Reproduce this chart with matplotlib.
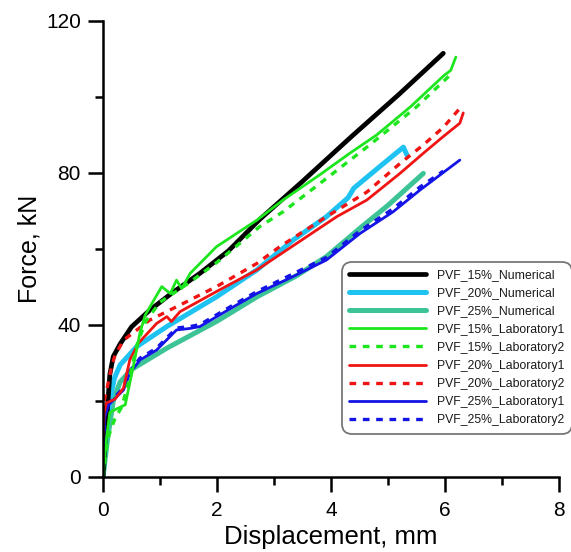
import matplotlib
matplotlib.use("Agg")
import matplotlib.pyplot as plt
from matplotlib.ticker import MultipleLocator

plt.rcParams['font.family'] = ['Liberation Sans', 'DejaVu Sans']

# ---- data ----
num15_x = [0, 0.05, 0.12, 0.18, 0.3, 0.5, 0.82, 1.2, 1.7, 2.2, 2.75, 3.5, 4.36, 5.2, 5.97]
num15_y = [0, 12, 27, 31.7, 35, 39.5, 43.9, 48.3, 53.6, 59.5, 67.8, 77.8, 89.6, 100.8, 111.5]

num20_x = [0, 0.05, 0.12, 0.2, 0.3, 0.59, 1.12, 1.99, 2.7, 3.34, 3.92, 4.3, 4.4, 4.8, 5.27, 5.33]
num20_y = [0, 10, 20, 26, 29.5, 34.3, 39.6, 47.4, 54.5, 62.4, 68.5, 73.5, 76, 81, 86.8, 84.8]

num25_x = [0, 0.08, 0.18, 0.3, 0.5, 1.12, 2.0, 2.7, 3.4, 3.92, 4.51, 5.0, 5.62]
num25_y = [0, 10, 20, 25, 28.3, 33.9, 41, 47.4, 53, 58, 65.5, 71.5, 79.9]

lab15a_x = [0, 0.06, 0.12, 0.25, 0.39, 0.53, 0.65, 0.74, 1.03, 1.18, 1.29, 1.38, 1.53, 1.99, 2.7, 3.16, 3.8, 4.33, 4.8, 5.4, 5.97, 6.1, 6.19]
lab15a_y = [0, 10, 17, 18, 19, 29, 38, 42.6, 50.1, 48.3, 51.8, 49.6, 53.6, 60.6, 67.6, 72.9, 79.5, 85.2, 90, 97.5, 105.5, 107, 110.5]

lab15b_x = [0, 0.08, 0.2, 0.33, 0.45, 0.6, 0.75, 1.0, 1.5, 2.0, 2.75, 3.16, 4.0, 4.68, 5.5, 6.12]
lab15b_y = [0, 10, 15, 18.5, 25, 35, 41, 46, 51, 56.5, 65.9, 69.8, 79.5, 87.4, 97.4, 106.2]

lab20a_x = [0, 0.02, 0.06, 0.21, 0.36, 0.47, 0.62, 0.94, 1.12, 1.2, 1.35, 1.99, 2.7, 3.4, 4.1, 4.63, 5.21, 5.62, 5.97, 6.26, 6.32]
lab20a_y = [10.6, 17, 19.5, 20.5, 23.4, 30.8, 35.2, 40.4, 42.2, 40.9, 43.5, 48.8, 54.5, 61.5, 68.5, 72.9, 79.9, 85.2, 89.6, 93.1, 95.8]

lab20b_x = [0.02, 0.08, 0.15, 0.21, 0.36, 0.82, 1.41, 1.99, 2.7, 3.1, 3.92, 4.63, 5.21, 5.62, 5.97, 6.26]
lab20b_y = [20, 24, 29, 32, 36, 41.3, 45.7, 50.1, 56.2, 60.6, 68.5, 75, 82.5, 87.4, 92, 97]

lab25a_x = [0, 0.03, 0.1, 0.24, 0.36, 0.47, 0.65, 0.94, 1.29, 1.53, 1.7, 2.29, 2.7, 3.3, 3.92, 4.51, 5.09, 5.56, 6.26]
lab25a_y = [4.5, 15.9, 19, 21.1, 22.9, 27.3, 30.8, 33.4, 38.7, 39.1, 39.6, 44.8, 48.3, 52.5, 57.1, 64.1, 69.8, 75.5, 83.4]

lab25b_x = [0, 0.03, 0.1, 0.24, 0.36, 0.47, 0.65, 0.94, 1.29, 1.53, 1.7, 2.29, 2.7, 3.3, 3.92, 4.51, 5.09, 5.56, 5.97]
lab25b_y = [5, 16.5, 19.5, 21.6, 23.4, 27.8, 31.3, 33.9, 39.2, 39.6, 40.1, 45.3, 48.8, 53.2, 57.8, 64.8, 70.6, 76.3, 80.5]

labels = ["PVF_15%_Numerical", "PVF_20%_Numerical", "PVF_25%_Numerical",
          "PVF_15%_Laboratory1", "PVF_15%_Laboratory2",
          "PVF_20%_Laboratory1", "PVF_20%_Laboratory2",
          "PVF_25%_Laboratory1", "PVF_25%_Laboratory2"]

x_ticks = [0, 2, 4, 6, 8]
y_ticks = [0, 40, 80, 120]

fig = plt.figure(figsize=(5.71, 5.52), dpi=100)
ax = fig.add_axes([103/571, 1-477/552, 456/571, 456/552])

black, cyan, teal = "#000000", "#1ec3f2", "#3cc496"
green, red, blue = "#1ee61e", "#f01414", "#1414e6"

series = [
    (num15_x, num15_y, black, '-', 3.4),
    (num20_x, num20_y, cyan, '-', 3.6),
    (num25_x, num25_y, teal, '-', 3.6),
    (lab15a_x, lab15a_y, green, '-', 2.0),
    (lab15b_x, lab15b_y, green, (0, (2.0, 2.0)), 2.4),
    (lab20a_x, lab20a_y, red, '-', 2.0),
    (lab20b_x, lab20b_y, red, (0, (2.0, 2.0)), 2.4),
    (lab25a_x, lab25a_y, blue, '-', 2.0),
    (lab25b_x, lab25b_y, blue, (0, (2.0, 2.0)), 2.4),
]
order = [2, 1, 0, 8, 7, 6, 5, 4, 3]
handles = [None] * 9
for i in order:
    xs, ys, c, ls, lw = series[i]
    h, = ax.plot(xs, ys, color=c, linestyle=ls, linewidth=lw, label=labels[i],
                 solid_capstyle='round', dash_capstyle='butt')
    handles[i] = h

ax.set_xlim(0, 8)
ax.set_ylim(0, 120)
ax.set_xticks(x_ticks)
ax.set_yticks(y_ticks)
ax.xaxis.set_minor_locator(MultipleLocator(1))
ax.yaxis.set_minor_locator(MultipleLocator(20))
for s in ['top', 'right']:
    ax.spines[s].set_visible(False)
for s in ['left', 'bottom']:
    ax.spines[s].set_linewidth(1.8)
ax.tick_params(which='major', length=11, width=1.8, direction='out', labelsize=15, pad=6)
ax.tick_params(which='minor', length=5.5, width=1.8, direction='out')
ax.tick_params(axis='y', which='major', pad=5)

ax.set_xlabel("Displacement, mm", fontsize=18.5, labelpad=4)
ax.set_ylabel("Force, kN", fontsize=18, labelpad=3)

leg = ax.legend(handles, labels, loc='upper left', bbox_to_anchor=(0.524, 0.4715),
                borderaxespad=0, fontsize=8.8, handlelength=6.3, handletextpad=0.9,
                labelspacing=0.5, frameon=True, fancybox=True, borderpad=0.6)
leg.get_frame().set_edgecolor('#555555')
leg.get_frame().set_linewidth(1.3)
leg.get_frame().set_boxstyle('round,pad=0,rounding_size=0.8')
for t in leg.get_texts():
    t.set_color('#1a1a1a')
leg.set_clip_on(False)

fig.savefig("out.png", dpi=100)
